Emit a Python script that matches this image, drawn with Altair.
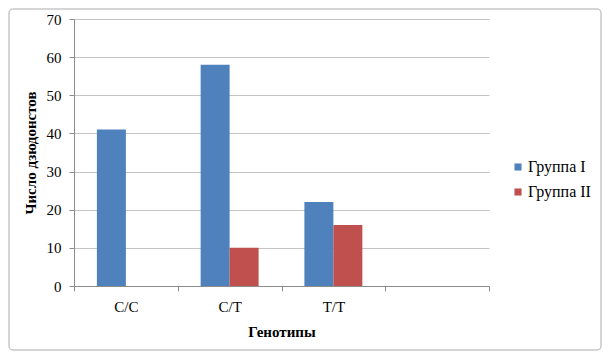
import altair as alt
import pandas as pd

genotypes = ["C/C", "C/T", "T/T"]
domain_cats = ["C/C", "C/T", "T/T", " "]
groups = ["Группа I", "Группа II"]
group1 = [41, 58, 22]
group2 = [0, 10, 16]
colors = ["#4F81BD", "#C0504D"]

rows = []
for g, a, b in zip(genotypes, group1, group2):
    rows.append({"Генотип": g, "Группа": groups[0], "Число": a})
    rows.append({"Генотип": g, "Группа": groups[1], "Число": b})
df = pd.DataFrame(rows)

FONT = "Liberation Serif"
W, H = 415, 267

bars = alt.Chart(df).mark_bar().encode(
    x=alt.X("Генотип:N",
            scale=alt.Scale(domain=domain_cats, paddingInner=0, paddingOuter=0),
            axis=alt.Axis(title="Генотипы", labelAngle=0, tickBand="extent",
                          tickSize=5, labelPadding=8, titlePadding=10,
                          domainColor="#8c8c8c", tickColor="#8c8c8c", grid=False,
                          labelFont=FONT, labelFontSize=15, labelColor="#000",
                          titleFont=FONT, titleFontSize=15, titleFontWeight="bold",
                          titleColor="#000")),
    xOffset=alt.XOffset("Группа:N", sort=groups,
                        scale=alt.Scale(paddingInner=0, paddingOuter=0.79)),
    y=alt.Y("Число:Q",
            scale=alt.Scale(domain=[0, 70], nice=False),
            axis=alt.Axis(title="Число дзюдонстов", values=[0, 10, 20, 30, 40, 50, 60, 70],
                          tickSize=5, labelPadding=8, titlePadding=8,
                          domainColor="#8c8c8c", tickColor="#8c8c8c",
                          grid=True, gridColor="#c4c4c4",
                          labelFont=FONT, labelFontSize=15, labelColor="#000",
                          titleFont=FONT, titleFontSize=15, titleFontWeight="bold",
                          titleColor="#000")),
    color=alt.Color("Группа:N", sort=groups,
                    scale=alt.Scale(domain=groups, range=colors),
                    legend=alt.Legend(title=None, orient="none", legendX=436, legendY=140,
                                      symbolType="square", symbolSize=50, symbolStrokeWidth=0,
                                      labelFont=FONT, labelFontSize=16, labelColor="#000",
                                      rowPadding=9, labelOffset=2)),
)

border = alt.Chart(pd.DataFrame({"a": [0]})).mark_rect(
    fill="transparent", stroke="#c8c8c8", strokeWidth=1.5, cornerRadius=4
).encode(
    x=alt.value(-65), x2=alt.value(527), y=alt.value(-10), y2=alt.value(331)
)

chart = alt.layer(border, bars).properties(
    width=W, height=H,
    autosize=alt.AutoSizeParams(type="none"),
    padding={"left": 66, "top": 11, "right": 113, "bottom": 65},
).configure_view(strokeWidth=0).configure_legend(labelFont=FONT, labelFontSize=16)

chart.save("out.html", embed_options={"renderer": "svg", "actions": False})
